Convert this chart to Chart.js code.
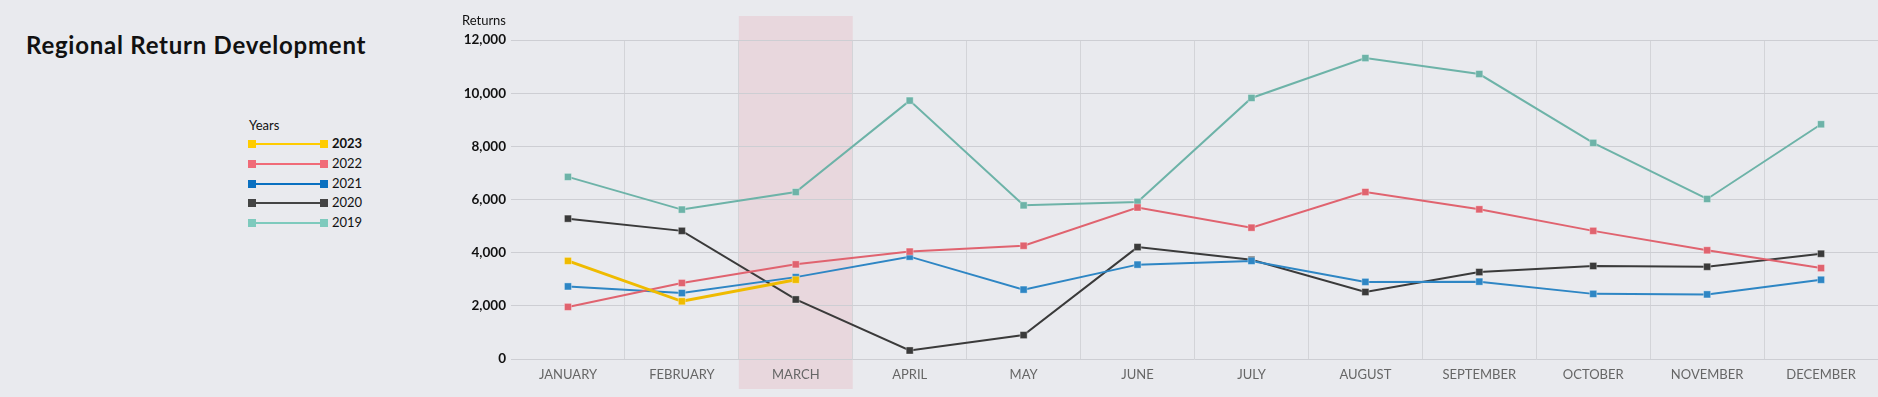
<!DOCTYPE html>
<html lang="en">
<head>
  <meta charset="UTF-8" />
  <title>Regional Return Development</title>
  <script src="https://cdn.jsdelivr.net/npm/chart.js"></script>
  <style>
    html, body { margin: 0; padding: 0; background: #e9eaee; overflow: hidden; }
    body { width: 1878px; height: 397px; position: relative; font-family: Lato, "Open Sans", sans-serif; }
    #title { position: absolute; left: 26px; top: 30px; margin: 0; font-size: 24px; font-weight: 700; color: #111; letter-spacing: 0.75px; white-space: nowrap; }
    #legend { position: absolute; left: 249px; top: 115px; font-size: 13px; color: #111; }
    #legend .head { height: 20px; line-height: 20px; }
    #legend .row { position: relative; height: 19.8px; }
    #legend .line { position: absolute; left: 0; top: 8px; width: 78px; height: 2px; }
    #legend .sq { position: absolute; top: -3px; width: 8px; height: 8px; }
    #legend .lbl { position: absolute; left: 83px; top: 0; line-height: 17px; }
    #chart { position: absolute; left: 0; top: 0; }
  </style>
</head>
<body>
  <h1 id="title">Regional Return Development</h1>
  <div id="legend"><div class="head">Years</div></div>
  <canvas id="chart" width="1878" height="397"></canvas>

  <script>
    // data
    const months = ['JANUARY', 'FEBRUARY', 'MARCH', 'APRIL', 'MAY', 'JUNE', 'JULY', 'AUGUST', 'SEPTEMBER', 'OCTOBER', 'NOVEMBER', 'DECEMBER'];
    const yTicks = [0, 2000, 4000, 6000, 8000, 10000, 12000];
    const years = ['2023', '2022', '2021', '2020', '2019'];
    const returns2023 = [3690, 2170, 2980];
    const returns2022 = [1960, 2860, 3560, 4040, 4260, 5700, 4940, 6280, 5630, 4820, 4090, 3420];
    const returns2021 = [2730, 2480, 3080, 3850, 2610, 3550, 3690, 2900, 2910, 2450, 2430, 2980];
    const returns2020 = [5280, 4820, 2240, 320, 900, 4210, 3730, 2520, 3270, 3500, 3470, 3960];
    const returns2019 = [6850, 5620, 6280, 9720, 5780, 5910, 9820, 11320, 10720, 8130, 6020, 8830];
    const highlightMonth = 'MARCH';

    const lineColors = ['#efbb00', '#e0636f', '#2e86c4', '#3a3a3a', '#6db3a8'];
    const legendColors = ['#ffcc00', '#f06b78', '#0a70c0', '#444444', '#7ecabd'];
    const series = [returns2023, returns2022, returns2021, returns2020, returns2019];

    // legend
    const legend = document.getElementById('legend');
    years.forEach((y, i) => {
      const row = document.createElement('div');
      row.className = 'row';
      row.innerHTML = `<div class="line" style="background:${legendColors[i]}">
          <div class="sq" style="left:-1px;background:${legendColors[i]}"></div>
          <div class="sq" style="right:-1px;background:${legendColors[i]}"></div>
        </div><div class="lbl" style="${i === 0 ? 'font-weight:700' : ''}">${y}</div>`;
      legend.appendChild(row);
    });

    // pink band behind one month + the "Returns" caption
    const extras = {
      id: 'extras',
      beforeDraw(chart) {
        const { ctx, scales: { x } } = chart;
        const i = months.indexOf(highlightMonth);
        const half = (x.getPixelForValue(1) - x.getPixelForValue(0)) / 2;
        const cx = x.getPixelForValue(i);
        ctx.save();
        ctx.fillStyle = '#e8d7dd';
        ctx.fillRect(cx - half, 16, half * 2, 373);
        ctx.restore();
      },
      afterDraw(chart) {
        const { ctx, scales: { y } } = chart;
        ctx.save();
        ctx.font = '13px Lato, "Open Sans", sans-serif';
        ctx.fillStyle = '#111';
        ctx.textAlign = 'right';
        ctx.textBaseline = 'middle';
        ctx.fillText('Returns', y.right - 5, y.getPixelForValue(12000) - 19);
        ctx.restore();
      }
    };

    new Chart(document.getElementById('chart'), {
      type: 'line',
      data: {
        labels: months,
        datasets: years.map((y, i) => ({
          label: y,
          data: series[i],
          borderColor: lineColors[i],
          backgroundColor: lineColors[i],
          borderWidth: i === 0 ? 3 : 2,
          pointStyle: 'rect',
          pointRadius: 5,
          pointHoverRadius: 5,
          pointBorderColor: 'rgba(255,255,255,0.35)',
          pointBorderWidth: 1,
          tension: 0,
          fill: false
        }))
      },
      options: {
        responsive: false,
        animation: false,
        layout: { autoPadding: false, padding: { top: 40, right: 0, left: 0, bottom: 0 } },
        plugins: { legend: { display: false }, tooltip: { enabled: false } },
        scales: {
          x: {
            offset: true,
            grid: {
              offset: true,
              drawTicks: false,
              color: c => c.index === 0 ? 'rgba(0,0,0,0)' : '#d3d4d8'
            },
            border: { display: false },
            ticks: { color: '#666', padding: 8, font: { family: 'Lato', size: 13 }, maxRotation: 0, autoSkip: false },
            afterFit(s) { s.height = 38; s.paddingLeft = 0; s.paddingRight = 0; }
          },
          y: {
            min: 0,
            max: 12000,
            afterBuildTicks(s) { s.ticks = yTicks.map(v => ({ value: v })); },
            grid: { color: '#cdced3', drawTicks: false },
            border: { display: false },
            ticks: {
              color: '#111',
              padding: 5,
              font: { family: 'Lato', size: 13.5, weight: 'bold' },
              callback: v => v.toLocaleString('en-US')
            },
            afterFit(s) { s.width = 511; s.paddingTop = 0; s.paddingBottom = 0; }
          }
        }
      },
      plugins: [extras]
    });
  </script>
</body>
</html>
